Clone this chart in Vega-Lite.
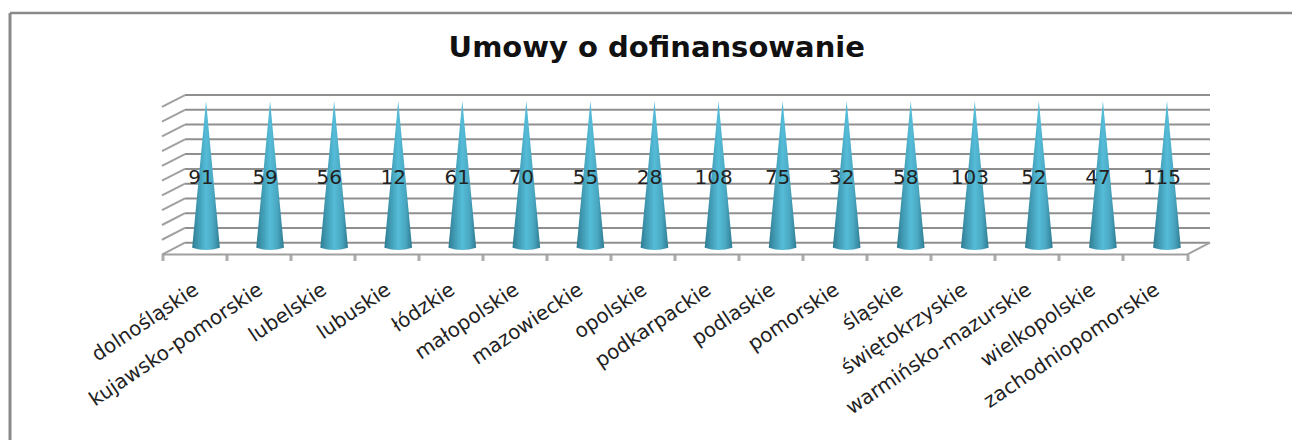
{"$schema":"https://vega.github.io/schema/vega-lite/v6.json","width":1282.5,"height":427.5,"padding":{"left":9.5,"top":12.5,"right":0,"bottom":0},"autosize":"none","background":"white","config":{"view":{"stroke":null}},"title":{"text":"Umowy o dofinansowanie","font":"DejaVu Sans","fontSize":29,"fontWeight":"bold","color":"#111","anchor":"middle","dx":6,"offset":-79,"baseline":"bottom"},"datasets":{"regions":[{"region":"dolnośląskie","value":91,"mid":4.55,"labelLevel":4.35},{"region":"kujawsko-pomorskie","value":59,"mid":4.55,"labelLevel":4.35},{"region":"lubelskie","value":56,"mid":4.55,"labelLevel":4.35},{"region":"lubuskie","value":12,"mid":4.55,"labelLevel":4.35},{"region":"łódzkie","value":61,"mid":4.55,"labelLevel":4.35},{"region":"małopolskie","value":70,"mid":4.55,"labelLevel":4.35},{"region":"mazowieckie","value":55,"mid":4.55,"labelLevel":4.35},{"region":"opolskie","value":28,"mid":4.55,"labelLevel":4.35},{"region":"podkarpackie","value":108,"mid":4.55,"labelLevel":4.35},{"region":"podlaskie","value":75,"mid":4.55,"labelLevel":4.35},{"region":"pomorskie","value":32,"mid":4.55,"labelLevel":4.35},{"region":"śląskie","value":58,"mid":4.55,"labelLevel":4.35},{"region":"świętokrzyskie","value":103,"mid":4.55,"labelLevel":4.35},{"region":"warmińsko-mazurskie","value":52,"mid":4.55,"labelLevel":4.35},{"region":"wielkopolskie","value":47,"mid":4.55,"labelLevel":4.35},{"region":"zachodniopomorskie","value":115,"mid":4.55,"labelLevel":4.35}],"grid":[{"level":0,"wx":0.36,"wx2":16.36},{"level":1,"wx":0.36,"wx2":16.36},{"level":2,"wx":0.36,"wx2":16.36},{"level":3,"wx":0.36,"wx2":16.36},{"level":4,"wx":0.36,"wx2":16.36},{"level":5,"wx":0.36,"wx2":16.36},{"level":6,"wx":0.36,"wx2":16.36},{"level":7,"wx":0.36,"wx2":16.36},{"level":8,"wx":0.36,"wx2":16.36},{"level":9,"wx":0.36,"wx2":16.36},{"level":10,"wx":0.36,"wx2":16.36}],"edges":[{"id":"e0","px":0,"py":-0.8},{"id":"e0","px":0.36,"py":0},{"id":"e1","px":0,"py":0.2},{"id":"e1","px":0.36,"py":1},{"id":"e2","px":0,"py":1.2},{"id":"e2","px":0.36,"py":2},{"id":"e3","px":0,"py":2.2},{"id":"e3","px":0.36,"py":3},{"id":"e4","px":0,"py":3.2},{"id":"e4","px":0.36,"py":4},{"id":"e5","px":0,"py":4.2},{"id":"e5","px":0.36,"py":5},{"id":"e6","px":0,"py":5.2},{"id":"e6","px":0.36,"py":6},{"id":"e7","px":0,"py":6.2},{"id":"e7","px":0.36,"py":7},{"id":"e8","px":0,"py":7.2},{"id":"e8","px":0.36,"py":8},{"id":"e9","px":0,"py":8.2},{"id":"e9","px":0.36,"py":9},{"id":"e10","px":0,"py":9.2},{"id":"e10","px":0.36,"py":10},{"id":"front","px":0,"py":-0.8},{"id":"front","px":16,"py":-0.8},{"id":"right","px":16,"py":-0.8},{"id":"right","px":16.36,"py":0}]},"layer":[{"data":{"name":"grid"},"mark":{"type":"rule","color":"#8f8f8f","strokeWidth":2},"encoding":{"x":{"field":"wx","type":"quantitative","scale":{"domain":[-2.38,17.64],"nice":false,"zero":false},"axis":{"orient":"top","title":null,"labels":false,"ticks":false,"grid":false,"domain":true,"domainColor":"#8a8a8a","domainWidth":2.5}},"x2":{"field":"wx2"},"y":{"field":"level","type":"quantitative","scale":{"domain":[-13.36,15.59],"nice":false,"zero":false},"axis":{"orient":"left","title":null,"labels":false,"ticks":false,"grid":false,"domain":true,"domainColor":"#8a8a8a","domainWidth":3}}}},{"data":{"name":"edges"},"mark":{"type":"line","color":"#a0a0a0","strokeWidth":2},"encoding":{"x":{"field":"px","type":"quantitative","scale":{"domain":[-2.38,17.64],"nice":false,"zero":false},"axis":null},"y":{"field":"py","type":"quantitative"},"detail":{"field":"id"}}},{"data":{"name":"regions"},"layer":[{"mark":{"type":"point","filled":true,"opacity":1,"size":22201,"xOffset":12,"shape":"M0,-1 L0.186,0.97 Q0,1.03 -0.186,0.97 Z","stroke":null,"fill":{"x1":0,"y1":0,"x2":1,"y2":0,"gradient":"linear","stops":[{"offset":0,"color":"#2f7c92"},{"offset":0.2,"color":"#3f98b0"},{"offset":0.5,"color":"#55bcd8"},{"offset":0.75,"color":"#4aa8c2"},{"offset":1,"color":"#2f7c92"}]}},"encoding":{"x":{"field":"region","type":"nominal","sort":null,"scale":{"range":[152.5,1177.5],"paddingInner":0,"paddingOuter":0},"axis":{"title":null,"domain":false,"offset":-185.5,"tickBand":"extent","tickColor":"#ababab","tickWidth":3,"tickSize":6,"labelAngle":-34,"labelAlign":"right","labelBaseline":"middle","labelFont":"DejaVu Sans","labelFontSize":20,"labelColor":"#222","labelOffset":2,"labelPadding":27,"labelLimit":0,"labelOverlap":false}},"y":{"field":"mid","type":"quantitative"}}},{"mark":{"type":"text","font":"DejaVu Sans","fontSize":20,"color":"#222","dx":7,"align":"center","baseline":"middle"},"encoding":{"x":{"field":"region","type":"nominal","sort":null},"y":{"field":"labelLevel","type":"quantitative"},"text":{"field":"value","type":"quantitative"}}}]}],"resolve":{"scale":{"x":"independent"},"axis":{"x":"independent"}}}
